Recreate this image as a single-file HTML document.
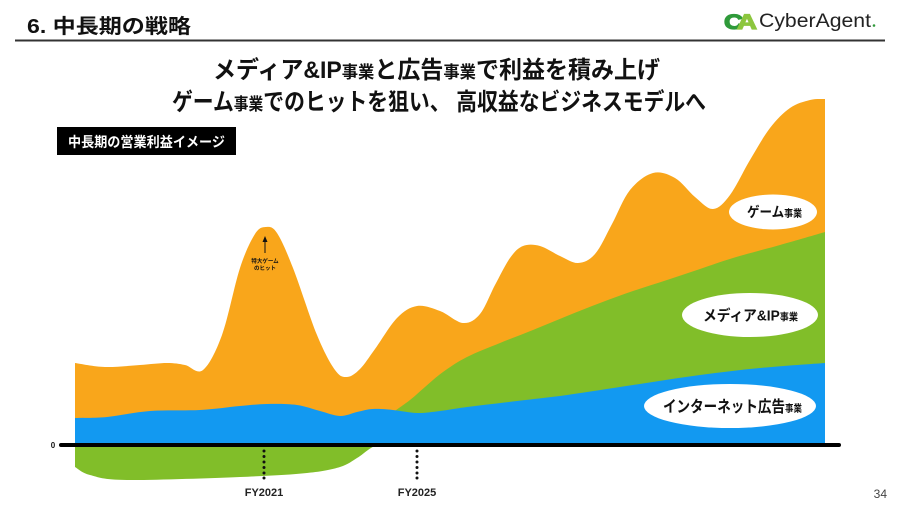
<!DOCTYPE html>
<html><head><meta charset="utf-8">
<style>
html,body{margin:0;padding:0;background:#fff;}
svg{display:block;font-family:"Liberation Sans","Noto Sans CJK JP",sans-serif;}
</style></head>
<body>
<svg id="s" width="900" height="506" viewBox="0 0 900 506" xmlns="http://www.w3.org/2000/svg">
<rect width="900" height="506" fill="#fff"/>
<!-- header -->
<text x="27" y="33" font-size="20" font-weight="bold" fill="#111" textLength="164" lengthAdjust="spacingAndGlyphs">6.  中長期の戦略</text>
<line x1="15" y1="40.5" x2="885" y2="40.5" stroke="#333" stroke-width="2"/>
<!-- logo -->
<text x="724" y="29" font-size="21" font-weight="bold" fill="#2f9a3a" stroke="#2f9a3a" stroke-width="1.2" font-family="Liberation Sans, sans-serif" textLength="19" lengthAdjust="spacingAndGlyphs">C</text>
<text x="737" y="29" font-size="21" font-weight="bold" fill="#8cc63e" stroke="#8cc63e" stroke-width="1.2" font-family="Liberation Sans, sans-serif" textLength="20" lengthAdjust="spacingAndGlyphs">A</text>
<text x="759" y="27" font-size="19" fill="#222" font-family="Liberation Sans, sans-serif" textLength="112" lengthAdjust="spacingAndGlyphs">CyberAgent</text>
<circle cx="874" cy="25.5" r="1.3" fill="#2f9a3a"/>
<!-- titles -->
<text x="213" y="78" font-size="24" font-weight="bold" fill="#111" textLength="447" lengthAdjust="spacingAndGlyphs">メディア&amp;IP<tspan font-size="17">事業</tspan>と広告<tspan font-size="17">事業</tspan>で利益を積み上げ</text>
<text x="172" y="110" font-size="24" font-weight="bold" fill="#111" textLength="534" lengthAdjust="spacingAndGlyphs">ゲーム<tspan font-size="17">事業</tspan>でのヒットを狙い、 高収益なビジネスモデルへ</text>
<!-- black box -->
<rect x="57" y="127" width="179" height="28" fill="#000"/>
<text x="68" y="147" font-size="14" font-weight="bold" fill="#fff" textLength="157" lengthAdjust="spacingAndGlyphs">中長期の営業利益イメージ</text>
<!-- chart -->
<path id="pO" fill="#F9A61B"/>
<path id="pG" fill="#81BE29"/>
<path id="pB" fill="#1299F1"/>
<path id="pG2" fill="#81BE29"/>
<line x1="61" y1="445" x2="839" y2="445" stroke="#000" stroke-width="4" stroke-linecap="round"/>
<text x="53" y="448" font-size="8" font-weight="bold" fill="#111" text-anchor="middle">0</text>
<g fill="#111">
<circle cx="264" cy="451" r="1.5"/><circle cx="264" cy="456.5" r="1.5"/><circle cx="264" cy="462" r="1.5"/><circle cx="264" cy="467.5" r="1.5"/><circle cx="264" cy="473" r="1.5"/><circle cx="264" cy="478" r="1.5"/>
<circle cx="417" cy="451" r="1.5"/><circle cx="417" cy="456.5" r="1.5"/><circle cx="417" cy="462" r="1.5"/><circle cx="417" cy="467.5" r="1.5"/><circle cx="417" cy="473" r="1.5"/><circle cx="417" cy="478" r="1.5"/>
</g>
<text x="264" y="496" font-size="11" font-weight="bold" fill="#222" text-anchor="middle">FY2021</text>
<text x="417" y="496" font-size="11" font-weight="bold" fill="#222" text-anchor="middle">FY2025</text>
<!-- annotation -->
<line x1="265" y1="253" x2="265" y2="241" stroke="#111" stroke-width="1"/>
<polygon points="265,236 262.5,242 267.5,242" fill="#111"/>
<text x="265" y="263" font-size="5.5" font-weight="bold" fill="#111" text-anchor="middle">特大ゲーム</text>
<text x="265" y="270" font-size="5.5" font-weight="bold" fill="#111" text-anchor="middle">のヒット</text>
<!-- labels -->
<ellipse cx="773" cy="212" rx="44" ry="17.5" fill="#fff"/>
<text x="747" y="217" font-size="14" font-weight="bold" fill="#111" textLength="55" lengthAdjust="spacingAndGlyphs">ゲーム<tspan font-size="10">事業</tspan></text>
<ellipse cx="750" cy="315" rx="68" ry="22" fill="#fff"/>
<text x="703" y="320.5" font-size="15" font-weight="bold" fill="#111" textLength="95" lengthAdjust="spacingAndGlyphs">メディア&amp;IP<tspan font-size="10">事業</tspan></text>
<ellipse cx="730" cy="406" rx="86" ry="22" fill="#fff"/>
<text x="663" y="412" font-size="16" font-weight="bold" fill="#111" textLength="139" lengthAdjust="spacingAndGlyphs">インターネット広告<tspan font-size="10">事業</tspan></text>
<!-- page number -->
<text x="887" y="498" font-size="12" fill="#444" text-anchor="end">34</text>
</svg>
<script>
function cr(p){
  var d='M'+p[0][0]+','+p[0][1];
  var n=p.length;
  for(var i=0;i<n-1;i++){
    var p0=p[Math.max(i-1,0)],p1=p[i],p2=p[i+1],p3=p[Math.min(i+2,n-1)];
    var c1x=p1[0]+(p2[0]-p0[0])/6,c1y=p1[1]+(p2[1]-p0[1])/6;
    var c2x=p2[0]-(p3[0]-p1[0])/6,c2y=p2[1]-(p3[1]-p1[1])/6;
    d+=' C'+c1x.toFixed(1)+','+c1y.toFixed(1)+' '+c2x.toFixed(1)+','+c2y.toFixed(1)+' '+p2[0]+','+p2[1];
  }
  return d;
}
var orange=[[75,363],[105,367],[140,365],[167,363],[185,365],[203,370],[222,335],[240,268],[255,234],[266,227],[277,233],[293,268],[317,335],[335,370],[347,377],[360,369],[375,349],[397,318],[417,306],[440,311],[463,323],[480,314],[495,285],[510,258],[523,246],[540,246],[560,256],[578,263],[595,254],[612,224],[630,190],[653,173],[675,178],[695,197],[713,209],[730,195],[750,160],[770,128],[790,108],[810,100],[825,99]];
var green=[[392,413],[410,400],[425,387],[443,372],[467,357],[500,343],[533,330],[567,316],[600,303],[633,291],[667,280],[700,269],[733,258],[780,245],[825,232]];
var blue=[[75,418],[107,417],[150,411],[200,410],[240,406],[267,404],[297,405],[320,411],[340,416],[357,412],[373,409],[393,410],[417,413],[440,411],[467,407],[517,401],[567,395],[633,385],[700,375],[760,368],[825,363]];
var g2=[[75,467],[90,475],[127,480],[240,477],[307,473],[340,467],[357,458],[368,450],[376,445]];
document.getElementById('pO').setAttribute('d','M75,445 L'+cr(orange).slice(1)+' L825,445 Z');
document.getElementById('pG').setAttribute('d','M392,445 L'+cr(green).slice(1)+' L825,445 Z');
document.getElementById('pB').setAttribute('d','M75,446 L'+cr(blue).slice(1)+' L825,446 Z');
document.getElementById('pG2').setAttribute('d',cr(g2)+' L75,445 Z');
</script>
</body></html>
